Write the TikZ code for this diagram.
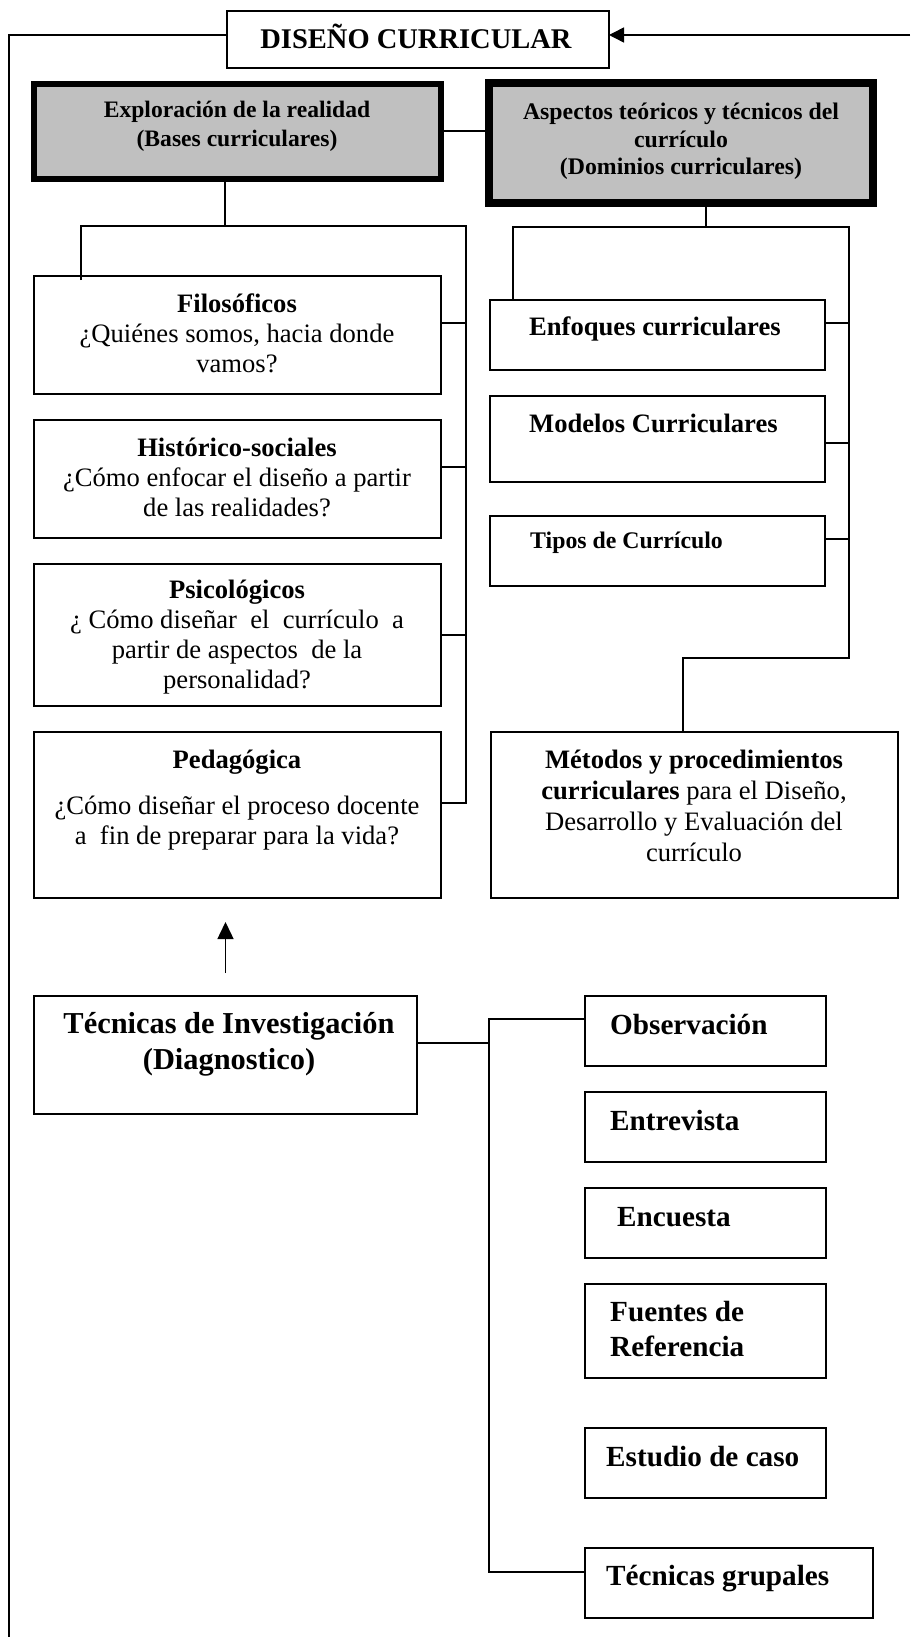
\documentclass[tikz,border=0pt]{standalone}
\usepackage{fontspec}
\setmainfont{Liberation Serif}
\usetikzlibrary{arrows.meta}
\definecolor{boxgray}{RGB}{192,192,192}
\newcommand\myfs[2]{\fontsize{#1pt}{#2pt}\selectfont}
\begin{document}
\begin{tikzpicture}[x=1pt,y=-1pt,
  box/.style={draw, line width=2pt, anchor=north west, inner sep=0pt, outer sep=0pt},
  gbox/.style={draw, fill=boxgray, anchor=north west, inner sep=0pt, outer sep=0pt},
  conn/.style={line width=1.5pt},
  txt/.style={inner sep=0pt, align=center},
  ltxt/.style={inner sep=0pt, align=left, anchor=west},
  fa/.style={font=\bfseries\myfs{23.6}{28}},
  fb/.style={font=\myfs{26.6}{30}},
  fc/.style={font=\bfseries\myfs{29.2}{35}}
]
\useasboundingbox[fill=white] (0,0) rectangle (910,1637);

% boxes
\node[box, minimum width=382pt, minimum height=57pt] (title) at (227,11) {};
\node[gbox, line width=6pt, minimum width=407pt, minimum height=95pt] (lgray) at (34,84) {};
\node[gbox, line width=8pt, minimum width=384pt, minimum height=120pt] (rgray) at (489,83) {};

\node[box, minimum width=407pt, minimum height=118pt] (fil) at (34,276) {};
\node[box, minimum width=407pt, minimum height=118pt] (his) at (34,420) {};
\node[box, minimum width=407pt, minimum height=142pt] (psi) at (34,564) {};
\node[box, minimum width=407pt, minimum height=166pt] (ped) at (34,732) {};

\node[box, minimum width=335pt, minimum height=70pt] (enf) at (490,300) {};
\node[box, minimum width=335pt, minimum height=86pt] (mod) at (490,396) {};
\node[box, minimum width=335pt, minimum height=70pt] (tip) at (490,516) {};
\node[box, minimum width=407pt, minimum height=166pt] (met) at (491,732) {};

\node[box, minimum width=383pt, minimum height=118pt] (tec) at (34,996) {};
\node[box, minimum width=241pt, minimum height=70pt] (obs) at (585,996) {};
\node[box, minimum width=241pt, minimum height=70pt] (ent) at (585,1092) {};
\node[box, minimum width=241pt, minimum height=70pt] (enc) at (585,1188) {};
\node[box, minimum width=241pt, minimum height=94pt] (fue) at (585,1284) {};
\node[box, minimum width=241pt, minimum height=70pt] (est) at (585,1428) {};
\node[box, minimum width=288pt, minimum height=70pt] (gru) at (585,1548) {};

% texts
\node[inner sep=0pt, anchor=base, font=\bfseries\myfs{28.5}{33}] (title-t) at (416,48.5) {DISEÑO CURRICULAR};
\node[txt, font=\bfseries\myfs{23.6}{29}] (lgray-t) at (237,126) {Exploración de la realidad\\(Bases curriculares)};
\node[txt, font=\bfseries\myfs{23.8}{27.5}] (rgray-t) at (681,141.5) {Aspectos teóricos y técnicos del\\currículo\\(Dominios curriculares)};

\node[txt, fb] (fil-t) at (237,333) {\textbf{Filosóficos}\\¿Quiénes somos, hacia donde\\vamos?};
\node[txt, fb] (his-t) at (237,477) {\textbf{Histórico-sociales}\\¿Cómo enfocar el diseño a partir\\de las realidades?};
\node[txt, fb] (psi-t) at (237,637.5) {\textbf{Psicológicos}\\¿ Cómo diseñar\ \ el\ \ currículo\ \ a\\partir de aspectos\ \ de la\\personalidad?};
\node[txt, fb] (ped-t) at (237,800) {\textbf{Pedagógica}\\[16pt]¿Cómo diseñar el proceso docente\\a\ \ fin de preparar para la vida?};

\node[ltxt, font=\bfseries\myfs{26.6}{30}] (enf-t) at (529,329) {Enfoques curriculares};
\node[ltxt, font=\bfseries\myfs{26.6}{30}] (mod-t) at (529,423) {Modelos Curriculares};
\node[ltxt, font=\bfseries\myfs{23.8}{28}] (tip-t) at (530,543) {Tipos de Currículo};
\node[txt, font=\myfs{26.6}{31}] (met-t) at (694,805.5) {\textbf{Métodos y procedimientos}\\\textbf{curriculares} para el Diseño,\\Desarrollo y Evaluación del\\currículo};

\node[txt, font=\bfseries\myfs{30.4}{36}] (tec-t) at (229,1044) {Técnicas de Investigación\\(Diagnostico)};
\node[ltxt, fc] (obs-t) at (610,1024) {Observación};
\node[ltxt, fc] (ent-t) at (610,1120) {Entrevista};
\node[ltxt, fc] (enc-t) at (617,1217) {Encuesta};
\node[ltxt, fc] (fue-t) at (610,1329) {Fuentes de\\Referencia};
\node[ltxt, fc] (est-t) at (606,1457) {Estudio de caso};
\node[ltxt, fc] (gru-t) at (606,1579) {Técnicas grupales};

% outer loop connectors
\coordinate (tl) at ([yshift=4.5pt]title.west);
\coordinate (bl) at (9,1637);
\draw[conn] (tl) -| (bl);
\coordinate (tr) at (910,35);
\draw[conn, -{Triangle[length=15pt,width=15pt]}] (tr) -- ([yshift=4.5pt]title.east);

% gray link
\coordinate (lge) at ([yshift=0.5pt]lgray.east);
\draw[conn] (lge) -- (lge -| rgray.west);

% left tree
\coordinate (lj) at (225,226);
\coordinate (lL) at (81,226);
\coordinate (lR) at (466,226);
\coordinate (filc) at ([yshift=12pt]fil.east);
\coordinate (hisc) at ([yshift=12pt]his.east);
\coordinate (psic) at (psi.east);
\coordinate (pedc) at ([yshift=12pt]ped.east);
\coordinate (filn) at ([yshift=-4pt]fil.north);
\draw[conn] (lgray.south -| lj) -- (lj);
\draw[conn] (filn -| lL) -- (lL) -- (lR) -- (pedc -| lR) -- (pedc);
\draw[conn] (filc) -- (filc -| lR);
\draw[conn] (hisc) -- (hisc -| lR);
\draw[conn] (psic) -- (psic -| lR);

% right tree
\coordinate (rj) at (706,227);
\coordinate (rL) at (513,227);
\coordinate (rR) at (849,227);
\coordinate (rk) at (683,658);
\coordinate (enfc) at ([yshift=12pt]enf.east);
\coordinate (modc) at ([yshift=-4pt]mod.east);
\coordinate (tipc) at ([yshift=12pt]tip.east);
\draw[conn] (rgray.south -| rj) -- (rj);
\draw[conn] (enf.north -| rL) -- (rL) -- (rR) -- (rR |- rk) -- (rk) -- (met.north -| rk);
\draw[conn] (enfc) -- (enfc -| rR);
\draw[conn] (modc) -- (modc -| rR);
\draw[conn] (tipc) -- (tipc -| rR);

% arrow up
\coordinate (tecn) at ([yshift=23pt]tec.north);
\coordinate (peds) at ([yshift=-24pt]ped.south);
\draw[conn, -{Triangle[length=17pt,width=16pt]}] (tecn) -- (peds -| tecn);

% bottom tree
\coordinate (tv) at (489,0);
\coordinate (tecc) at ([yshift=12pt]tec.east);
\coordinate (obsc) at ([yshift=12pt]obs.west);
\coordinate (gruc) at ([yshift=11pt]gru.west);
\draw[conn] (tecc) -- (tecc -| tv);
\draw[conn] (obsc) -- (obsc -| tv) -- (gruc -| tv) -- (gruc);
\end{tikzpicture}
\end{document}
